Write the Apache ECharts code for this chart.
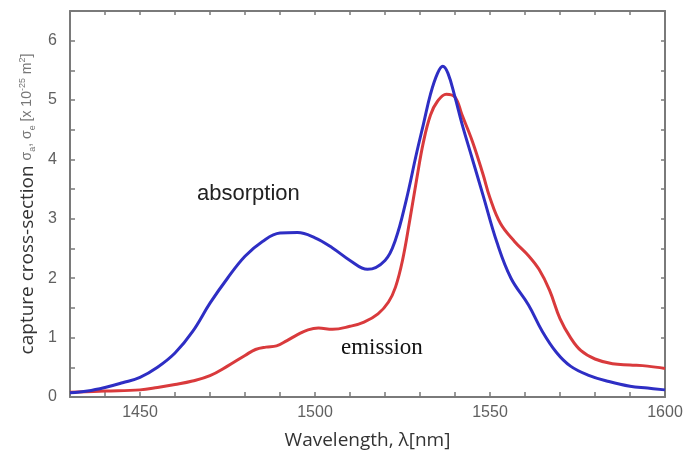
<!DOCTYPE html>
<html><head><meta charset="utf-8">
<script src="https://cdn.jsdelivr.net/npm/echarts@6/dist/echarts.min.js"></script>
<style>html,body{margin:0;padding:0;background:#fff}#c{width:691px;height:457px}</style>
</head><body><div id="c"></div>
<script>
// Wavelength (nm) sample points and cross-section values (x 1e-25 m^2)
const absWavelength = [1430,1435,1440,1445,1450,1455,1460,1465,1470,1475,1480,1485,1490,1495,1500,1505,1510,1515,1520,1523,1526,1529,1531,1533,1535,1536.5,1538,1540,1542,1545,1548,1552,1556,1561,1565,1569,1573,1578,1584,1590,1595,1600];
const absValues     = [0.07,0.1,0.16,0.24,0.33,0.5,0.74,1.1,1.58,2.0,2.37,2.62,2.76,2.77,2.68,2.51,2.3,2.15,2.3,2.65,3.3,4.1,4.6,5.1,5.45,5.57,5.45,5.05,4.6,4.0,3.4,2.6,2.0,1.55,1.1,0.75,0.52,0.37,0.26,0.18,0.15,0.12];
const emiWavelength = [1430,1440,1450,1455,1460,1465,1470,1475,1480,1483,1486,1489,1492,1495,1498,1501,1505,1510,1514,1518,1521,1523,1525,1527,1529,1531,1533,1535,1537.5,1540,1542,1545,1548,1550,1553,1557,1561,1564,1567,1570,1573,1576,1580,1585,1590,1595,1600];
const emiValues     = [0.08,0.1,0.12,0.16,0.21,0.27,0.36,0.52,0.7,0.8,0.84,0.86,0.95,1.05,1.13,1.16,1.14,1.19,1.26,1.4,1.6,1.85,2.3,2.95,3.65,4.3,4.75,4.98,5.1,5.05,4.75,4.3,3.75,3.35,2.92,2.62,2.38,2.15,1.8,1.32,1.0,0.78,0.64,0.56,0.54,0.52,0.48];
const xTicks = [1450,1500,1550,1600];
const yTicks = [0,1,2,3,4,5,6];
const xName = 'Wavelength, λ[nm]';
const yNameMain = 'capture cross-section ';
const seriesNames = ['absorption','emission'];

const zip = (a,b) => a.map((x,i)=>[x,b[i]]);
const axisCol = '#7a7a7a';
const chart = echarts.init(document.getElementById('c'));
const baseX = {type:'value', min:1430, max:1600, interval:10,
  axisLine:{show:true,onZero:false,lineStyle:{color:axisCol,width:2}},
  splitLine:{show:false}};
const baseY = {type:'value', min:0, max:6.5, interval:0.5,
  axisLine:{show:true,onZero:false,lineStyle:{color:axisCol,width:2}},
  splitLine:{show:false}};
chart.setOption({
  animation:false,
  grid:{left:70,right:26,top:11,bottom:60},
  xAxis:[
    Object.assign({}, baseX, {position:'bottom',
      axisTick:{inside:true,length:5,lineStyle:{color:axisCol,width:1.5},interval:0},
      axisLabel:{margin:8,color:'#606060',fontSize:16,fontFamily:'Liberation Sans, Arial',
        formatter:v=> xTicks.includes(v)?String(v):''},
      name:xName,nameLocation:'middle',nameGap:34,
      nameTextStyle:{color:'#333',fontSize:19,fontFamily:'Open Sans'}}),
    Object.assign({}, baseX, {position:'top',
      axisTick:{inside:true,length:4,lineStyle:{color:axisCol,width:1.5}},
      axisLabel:{show:false}})
  ],
  yAxis:[
    Object.assign({}, baseY, {position:'left',
      axisTick:{inside:true,length:5,lineStyle:{color:axisCol,width:1.5}},
      axisLabel:{margin:13,color:'#606060',fontSize:16,fontFamily:'Liberation Sans, Arial',
        formatter:v=> yTicks.includes(v)?String(v):''},
      name:'{m|'+yNameMain+'}{s|σ}{sub|a}{s|, σ}{sub|e}{s| [x 10}{sup|-25}{s| m}{sup|2}{s|]}',
      nameLocation:'middle',nameGap:33,nameRotate:90,
      nameTextStyle:{rich:{
        m:{color:'#333',fontSize:19,fontFamily:'Open Sans'},
        s:{color:'#777',fontSize:14,fontFamily:'Liberation Sans'},
        sub:{color:'#777',fontSize:9,fontFamily:'Liberation Sans',verticalAlign:'bottom',padding:[8,0,0,0]},
        sup:{color:'#777',fontSize:9,fontFamily:'Liberation Sans',verticalAlign:'top',padding:[0,0,8,0]}
      }}}),
    Object.assign({}, baseY, {position:'right',
      axisTick:{inside:true,length:4,lineStyle:{color:axisCol,width:1.5}},
      axisLabel:{show:false}})
  ],
  graphic:[
    {type:'text',left:197,top:183,style:{text:'absorption',fill:'#222',font:'22px "Liberation Sans", Arial'}},
    {type:'text',left:341,top:336,style:{text:'emission',fill:'#111',font:'23px "Liberation Serif", "Times New Roman"'}}
  ],
  series:[
    {name:seriesNames[1],type:'line',data:zip(emiWavelength,emiValues),smooth:0.4,showSymbol:false,
      lineStyle:{color:'#d93a3c',width:3}},
    {name:seriesNames[0],type:'line',data:zip(absWavelength,absValues),smooth:0.4,showSymbol:false,
      lineStyle:{color:'#2e2ec4',width:3}}
  ]
});
</script></body></html>
